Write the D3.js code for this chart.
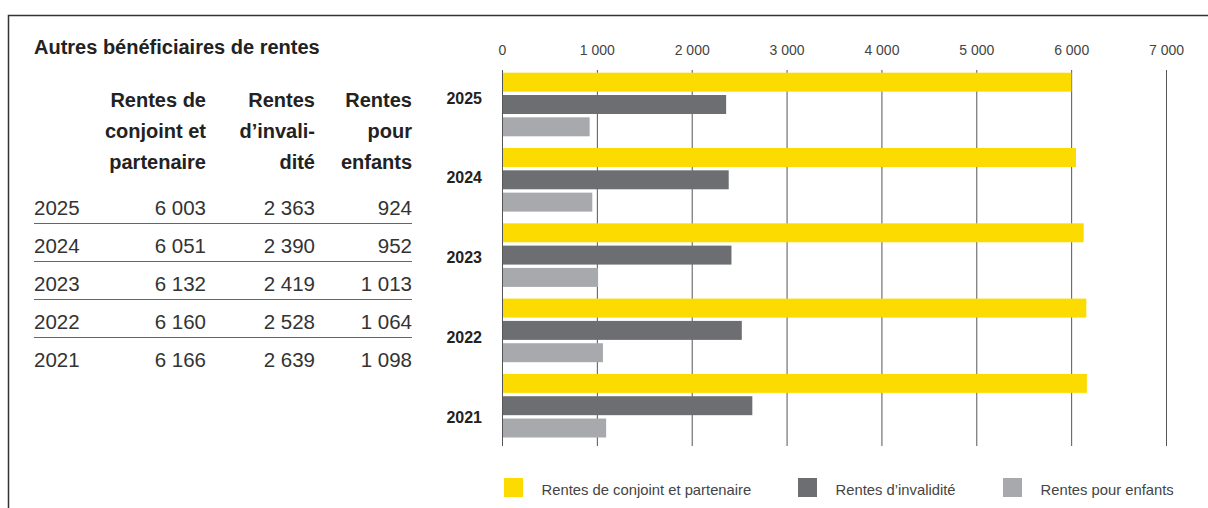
<!DOCTYPE html>
<html>
<head>
<meta charset="utf-8">
<script src="https://cdn.jsdelivr.net/npm/d3@7"></script>
<style>
  body { margin: 0; background: #fff; }
  svg text { font-family: "Liberation Sans", Arial, sans-serif; }
</style>
</head>
<body>
<div id="container"></div>
<script>
// values
var years = ["2025", "2024", "2023", "2022", "2021"];
var conjoint = [6003, 6051, 6132, 6160, 6166];
var invalidite = [2363, 2390, 2419, 2528, 2639];
var enfants = [924, 952, 1013, 1064, 1098];
var seriesNames = ["Rentes de conjoint et partenaire", "Rentes d\u2019invalidit\u00e9", "Rentes pour enfants"];
var seriesColors = ["#fcdc00", "#6d6e71", "#a7a9ac"];
var xTicks = [0, 1000, 2000, 3000, 4000, 5000, 6000, 7000];
var headerLines = [
	["Rentes de", "conjoint et", "partenaire"],
	["Rentes", "d\u2019invali-", "dit\u00e9"],
	["Rentes", "pour", "enfants"]
];

var width = 1208;
var height = 508;

var fmt = d3.formatLocale({ decimal: ",", thousands: "\u00a0", grouping: [3], currency: ["", ""] }).format(",d");

var svg = d3.select("#container")
	.append("svg")
	.attr("width", width)
	.attr("height", height);

// frame (top and left only)
svg.append("path")
	.attr("d", "M8.5," + height + "V15.5H" + width)
	.attr("fill", "none")
	.attr("stroke", "#333")
	.attr("stroke-width", 1.5);

// ---------- table on the left ----------
svg.append("text")
	.attr("x", 34)
	.attr("y", 54)
	.attr("font-size", 20)
	.attr("font-weight", "bold")
	.attr("fill", "#222")
	.text("Autres b\u00e9n\u00e9ficiaires de rentes");

var colRight = [206, 315, 412];

headerLines.forEach(function(lines, c) {
	svg.append("g").selectAll("text")
		.data(lines)
		.enter()
		.append("text")
		.attr("x", colRight[c])
		.attr("y", function(d, i) { return 107 + i * 31; })
		.attr("text-anchor", "end")
		.attr("font-size", 20)
		.attr("font-weight", "bold")
		.attr("fill", "#222")
		.text(function(d) { return d; });
});

var rowY = d3.scalePoint()
	.domain(years)
	.range([215, 367]);

var rows = svg.append("g").selectAll("g")
	.data(years)
	.enter()
	.append("g")
	.attr("transform", function(d) { return "translate(0," + rowY(d) + ")"; });

rows.append("text")
	.attr("x", 34)
	.attr("font-size", 20.5)
	.attr("fill", "#333")
	.text(function(d) { return d; });

[conjoint, invalidite, enfants].forEach(function(vals, c) {
	rows.append("text")
		.attr("x", colRight[c])
		.attr("text-anchor", "end")
		.attr("font-size", 20.5)
		.attr("fill", "#333")
		.text(function(d, i) { return fmt(vals[i]); });
});

// separator lines between rows
rows.filter(function(d, i) { return i < years.length - 1; })
	.append("line")
	.attr("x1", 34)
	.attr("x2", 412)
	.attr("y1", 8.5)
	.attr("y2", 8.5)
	.attr("stroke", "#666")
	.attr("stroke-width", 1);

// ---------- bar chart ----------
var x = d3.scaleLinear()
	.domain([0, 7000])
	.range([502, 1166]);

var axisTop = 70;
var axisBottom = 446;

var xAxis = d3.axisTop(x)
	.tickValues(xTicks)
	.tickSize(axisBottom - axisTop)
	.tickPadding(15)
	.tickFormat(fmt);

var gx = svg.append("g")
	.attr("transform", "translate(0," + axisBottom + ")")
	.call(xAxis);
gx.select(".domain").remove();
gx.selectAll(".tick line").attr("stroke", "#555");
gx.selectAll(".tick text")
	.attr("font-size", 14)
	.attr("fill", "#444")
	.attr("dy", 0)
	.style("font-family", "Liberation Sans, Arial, sans-serif");

var yGroup = d3.scaleBand()
	.domain(years)
	.range([72.7, 72.7 + 5 * 75.3]);

var yInner = d3.scaleBand()
	.domain([0, 1, 2])
	.range([0, 63.6])
	.paddingInner(0.15);

var groups = svg.append("g").selectAll("g")
	.data(years)
	.enter()
	.append("g")
	.attr("transform", function(d) { return "translate(0," + yGroup(d) + ")"; });

groups.selectAll("rect")
	.data(function(d, i) { return [conjoint[i], invalidite[i], enfants[i]]; })
	.enter()
	.append("rect")
	.attr("x", x(0) + 1)
	.attr("y", function(d, j) { return yInner(j); })
	.attr("width", function(d) { return x(d) - x(0) - 1; })
	.attr("height", yInner.bandwidth())
	.attr("fill", function(d, j) { return seriesColors[j]; });

// year labels
var yLabel = d3.scalePoint()
	.domain(years)
	.range([97.5, 417]);

svg.append("g").selectAll("text")
	.data(years)
	.enter()
	.append("text")
	.attr("x", 482)
	.attr("y", function(d) { return yLabel(d) + 6; })
	.attr("text-anchor", "end")
	.attr("font-size", 16)
	.attr("font-weight", "bold")
	.attr("fill", "#222")
	.text(function(d) { return d; });

// legend
var legendX = [504, 798, 1003];
var legend = svg.append("g").selectAll("g")
	.data(seriesNames)
	.enter()
	.append("g")
	.attr("transform", function(d, i) { return "translate(" + legendX[i] + ",478)"; });

legend.append("rect")
	.attr("width", 19)
	.attr("height", 19)
	.attr("fill", function(d, i) { return seriesColors[i]; });

legend.append("text")
	.attr("x", 37.5)
	.attr("y", 17)
	.attr("font-size", 14.8)
	.attr("fill", "#444")
	.text(function(d) { return d; });
</script>
</body>
</html>
